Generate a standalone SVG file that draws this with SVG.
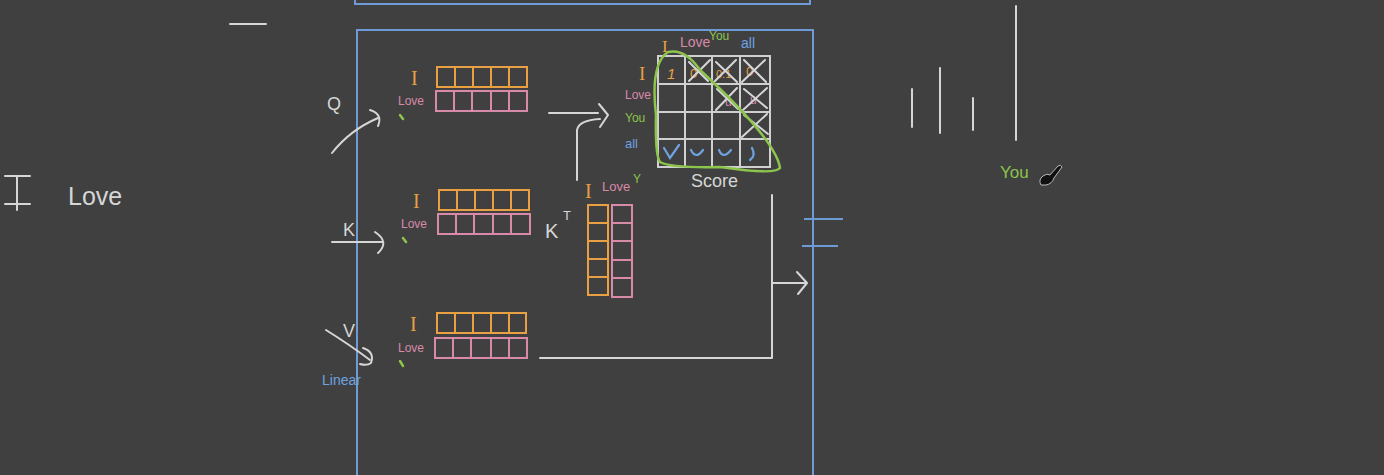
<svg xmlns="http://www.w3.org/2000/svg" width="1384" height="475" viewBox="0 0 1384 475">
<style>
.w{stroke:#d6d6d6;fill:none;stroke-width:2;stroke-linecap:round;stroke-linejoin:round}
.b{stroke:#6e9bd6;fill:none;stroke-width:2}
.o{stroke:#e8a043;fill:none;stroke-width:2}
.p{stroke:#d98aa9;fill:none;stroke-width:2}
.g{stroke:#8cc44c;fill:none;stroke-width:2.5;stroke-linecap:round;stroke-linejoin:round}
.gr{stroke:#d0d0d0;fill:none;stroke-width:2}
.bl{stroke:#6ea3e0;fill:none;stroke-width:2.2;stroke-linecap:round}
text{font-family:"Liberation Sans","DejaVu Sans",sans-serif}
.i{font-family:"Liberation Serif","DejaVu Serif",serif}
.to{fill:#e8a043}.tp{fill:#d98aa9}.tg{fill:#8cc44c}.tb{fill:#6ea3e0}.tw{fill:#d6d6d6}
</style>
<rect width="1384" height="475" fill="#404040"/>

<g id="frames">
<rect class="b" x="355" y="-10" width="455" height="14"/>
<rect class="b" x="357" y="30" width="456" height="460"/>
<line class="b" x1="804" y1="219" x2="843" y2="219"/>
<line class="b" x1="802" y1="246" x2="838" y2="246"/>
</g>

<g id="left-words">
<line class="w" x1="230" y1="24" x2="266" y2="24"/>
<path class="w" d="M5 176 H30 M17 176 V210 M5 204 H30"/>
<text class="tw" x="68" y="205" font-size="25">Love</text>
</g>

<g id="q-row">
<text class="tw" x="327" y="110" font-size="18">Q</text>
<text class="to i" x="411" y="85" font-size="20">I</text>
<g class="o"><rect x="437" y="67" width="90" height="20"/><path d="M455 67V87M473 67V87M491 67V87M509 67V87"/></g>
<text class="tp" x="398" y="105" font-size="12">Love</text>
<g class="p"><rect x="436" y="91" width="91" height="20"/><path d="M454 91V111M472 91V111M491 91V111M509 91V111"/></g>
<line class="g" x1="400" y1="115" x2="403" y2="119" stroke-width="2"/>
</g>

<g id="k-row">
<text class="tw" x="343" y="236" font-size="18">K</text>
<text class="to i" x="413" y="208" font-size="20">I</text>
<g class="o"><rect x="439" y="190" width="90" height="20"/><path d="M457 190V210M475 190V210M493 190V210M511 190V210"/></g>
<text class="tp" x="401" y="228" font-size="12">Love</text>
<g class="p"><rect x="438" y="214" width="92" height="20"/><path d="M456 214V234M474 214V234M493 214V234M511 214V234"/></g>
<line class="g" x1="403" y1="238" x2="406" y2="242" stroke-width="2"/>
</g>

<g id="v-row">
<text class="tw" x="343" y="337" font-size="18">V</text>
<text class="tb" x="322" y="385" font-size="14">Linear</text>
<text class="to i" x="410" y="331" font-size="20">I</text>
<g class="o"><rect x="437" y="313" width="89" height="20"/><path d="M455 313V333M473 313V333M491 313V333M509 313V333"/></g>
<text class="tp" x="398" y="352" font-size="12">Love</text>
<g class="p"><rect x="435" y="338" width="92" height="20"/><path d="M453 338V358M471 338V358M491 338V358M509 338V358"/></g>
<line class="g" x1="400" y1="361" x2="403" y2="366" stroke-width="2"/>
</g>

<g id="kt">
<text class="tw" x="545" y="238" font-size="20">K</text>
<text class="tw" x="563" y="220" font-size="13">T</text>
<text class="to i" x="585" y="198" font-size="20">I</text>
<text class="tp" x="602" y="191" font-size="13">Love</text>
<text class="tg" x="633" y="183" font-size="12">Y</text>
<g class="o"><rect x="588" y="205" width="20" height="90"/><path d="M588 223H608M588 241H608M588 259H608M588 277H608"/></g>
<g class="p"><rect x="612" y="205" width="20" height="92"/><path d="M612 223H632M612 241H632M612 260H632M612 278H632"/></g>
</g>

<g id="score">
<g class="gr"><rect x="658" y="56" width="112" height="111"/><path d="M685 56V167M712 56V167M740 56V167M658 84H770M658 112H770M658 139H770"/></g>
<text class="to i" x="662" y="52" font-size="17">I</text>
<text class="tp" x="680" y="47" font-size="14">Love</text>
<text class="tg" x="709" y="40" font-size="12">You</text>
<text class="tb" x="741" y="48" font-size="14">all</text>
<text class="to i" x="639" y="80" font-size="19">I</text>
<text class="tp" x="625" y="99" font-size="12">Love</text>
<text class="tg" x="625" y="122" font-size="12">You</text>
<text class="tb" x="625" y="148" font-size="13">all</text>
<text class="to" x="667" y="79" font-size="15" font-style="italic">1</text>
<text class="to" x="690" y="78" font-size="13">0</text>
<text class="to" x="716" y="78" font-size="11">0.1</text>
<text class="to" x="746" y="76" font-size="13">0</text>
<text class="tp" x="725" y="106" font-size="12">u</text>
<text class="tp" x="750" y="104" font-size="12">u</text>
<g class="w" stroke-width="1.6"><path d="M689 81L710 60M689 62L708 81M714 82L736 60M716 62L737 82M742 82L765 60M744 60L766 82M716 110L737 88M717 89L738 109M743 110L767 88M744 89L767 108M742 137L767 114M744 115L768 134"/></g>
<g class="bl"><path d="M664 148L670 158L679 145M691 150Q696 160 703 150M719 150Q723 160 731 150M752 148Q756 156 750 160"/></g>
<path class="g" d="M668 52Q650 64 656 115Q655 155 660 162Q670 168 720 167Q775 175 780 168Q776 140 700 70Q685 48 668 52Z"/>
<text class="tw" x="691" y="187" font-size="18">Score</text>
</g>

<g id="right-bars">
<line class="w" x1="912" y1="89" x2="912" y2="127"/>
<line class="w" x1="940" y1="68" x2="940" y2="133"/>
<line class="w" x1="973" y1="98" x2="973" y2="130"/>
<line class="w" x1="1016" y1="6" x2="1016" y2="140"/>
<text class="tg" x="1000" y="178" font-size="17">You</text>
<path d="M1041 185Q1038 180 1043 176Q1047 173 1050 175L1058 166Q1061 164 1062 167L1054 178Q1052 184 1046 185Z" fill="#111" stroke="#bbb" stroke-width="1"/>
</g>

<g id="connectors">
<path class="w" d="M332 153Q350 130 378 118"/>
<path class="w" d="M370 110Q383 114 378 126"/>
<path class="w" d="M332 242H383"/>
<path class="w" d="M375 232Q390 242 378 253"/>
<path class="w" d="M326 330Q350 345 370 360"/>
<path class="w" d="M363 348Q375 352 371 363Q367 366 360 364"/>
<path class="w" d="M549 113H598"/>
<path class="w" d="M577 180V130Q579 120 600 119"/>
<path class="w" d="M599 104L608 115L600 127"/>
<path class="w" d="M540 358H772V195"/>
<path class="w" d="M772 283H806"/>
<path class="w" d="M797 272L807 283L798 294"/>
</g>
</svg>
